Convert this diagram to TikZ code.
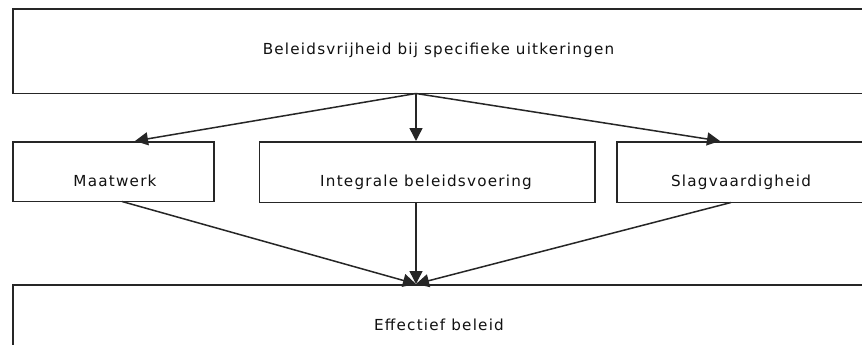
\documentclass[tikz,border=0pt]{standalone}
\usepackage{fontspec}
\setmainfont{DejaVu Sans}[LetterSpace=8]
\usetikzlibrary{arrows.meta,calc}
\definecolor{linec}{HTML}{262626}
\definecolor{txt}{HTML}{111111}
\begin{document}
\begin{tikzpicture}[x=1pt,y=-1pt,
  box/.style={draw=linec,line width=1.7pt,inner sep=0pt,outer sep=0pt},
  lab/.style={font=\fontsize{15.2}{18}\selectfont,text=txt,anchor=base,inner sep=0pt},
  arr/.style={draw=linec,line width=1.5pt,-{Triangle[length=13pt,width=13pt]}}]
\useasboundingbox (0,0) rectangle (862,345);
\clip (0,0) rectangle (862,345);
\fill[white] (0,0) rectangle (862,345);
% boxes
\node[box,minimum width=850pt,minimum height=84.2pt] (top) at (438,51.4) {};
\node[box,minimum width=201pt,minimum height=59.8pt] (maat) at (113.5,171.6) {};
\node[box,minimum width=335.5pt,minimum height=60.8pt] (integ) at (427.25,172.1) {};
\node[box,minimum width=246pt,minimum height=60.8pt] (slag) at (740,172.1) {};
\node[box,minimum width=850pt,minimum height=86pt] (eff) at (438,328) {};
% texts
\node[lab] (ttop) at (438.5,54.3) {Beleidsvrijheid bij specifieke uitkeringen};
\node[lab] (tmaat) at (115,186.7) {Maatwerk};
\node[lab] (tinteg) at (426,186.7) {Integrale beleidsvoering};
\node[lab] (tslag) at (741,186.7) {Slagvaardigheid};
\node[lab] (teff) at (439,330.7) {Effectief beleid};
% connectors
\coordinate (src) at ([xshift=-22pt]top.south);
\coordinate (sink) at ([xshift=-22pt,yshift=1pt]eff.north);
\draw[arr] (src) -- ([xshift=21.5pt,yshift=0.7pt]maat.north);
\draw[arr] (src) -- ([xshift=-11.25pt,yshift=0.7pt]integ.north);
\draw[arr] (src) -- ([xshift=-20pt,yshift=0.7pt]slag.north);
\draw[arr] ([xshift=8.5pt]maat.south) -- (sink);
\draw[arr] ([xshift=-11.25pt]integ.south) -- (sink);
\draw[arr] ([xshift=-9pt]slag.south) -- (sink);
\end{tikzpicture}
\end{document}
